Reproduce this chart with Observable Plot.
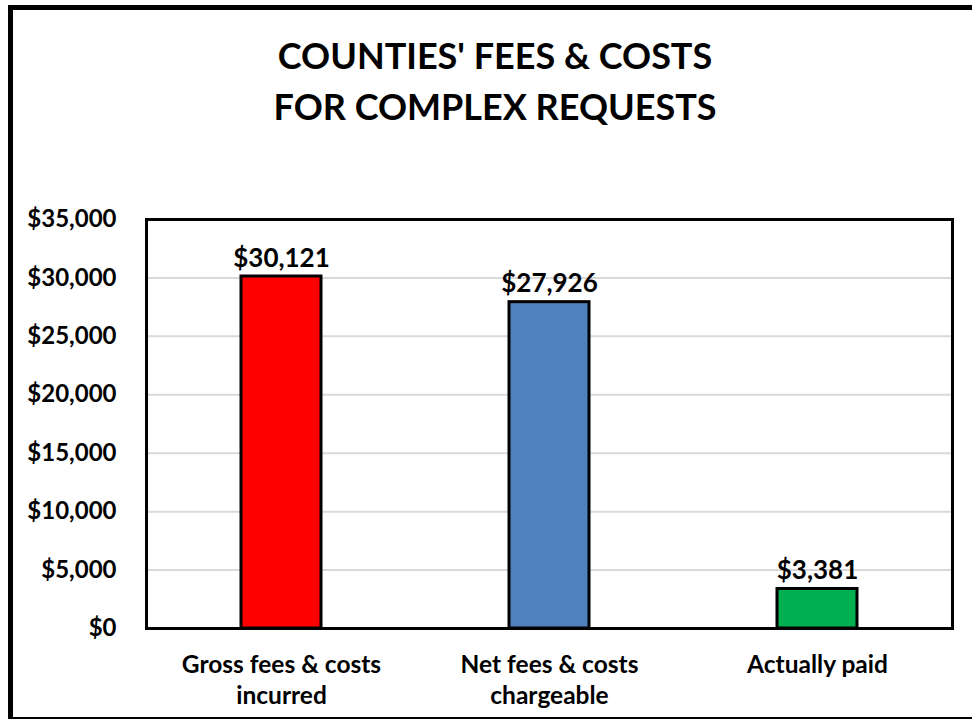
<!DOCTYPE html>
<html>
<head>
<meta charset="utf-8">
<script src="https://cdn.jsdelivr.net/npm/d3@7"></script>
<script src="https://cdn.jsdelivr.net/npm/@observablehq/plot@0.6"></script>
<style>
  html, body { margin: 0; padding: 0; background: #fff; }
  body { width: 972px; height: 719px; position: relative; overflow: hidden; font-family: Lato, "Open Sans", sans-serif; }
  #border { position: absolute; left: 8px; top: 5px; width: 990px; height: 717px; box-sizing: border-box; border: 5.5px solid #000; }
  #title { position: absolute; left: 0; top: 30px; width: 990px; text-align: center; font-size: 36px; line-height: 51px; font-weight: 700; color: #000; }
  #chart { position: absolute; left: 0; top: 180px; }
</style>
</head>
<body>
<div id="border"></div>
<div id="title">COUNTIES' FEES &amp; COSTS<br>FOR COMPLEX REQUESTS</div>
<div id="chart"></div>
<script>
const categories = ["Gross fees & costs\nincurred", "Net fees & costs\nchargeable", "Actually paid"];
const values = [30121, 27926, 3381];
const barColors = ["#FF0000", "#4F81BD", "#00B050"];
const yTicks = [0, 5000, 10000, 15000, 20000, 25000, 30000, 35000];

const data = categories.map((c, i) => ({category: c, value: values[i], color: barColors[i]}));
const money = d => "$" + d3.format(",")(d);

const chart = Plot.plot({
  width: 972,
  height: 539,
  marginTop: 39,
  marginBottom: 91,
  marginLeft: 146,
  marginRight: 20,
  style: {fontFamily: "Lato, 'Open Sans', sans-serif", color: "#000", background: "transparent", overflow: "visible"},
  x: {domain: categories, paddingInner: 0.7, paddingOuter: 0.35, label: null},
  y: {domain: [0, 35000], label: null},
  marks: [
    Plot.gridY(yTicks, {stroke: "#d9d9d9", strokeOpacity: 1, strokeWidth: 2}),
    Plot.axisY({ticks: yTicks, tickFormat: money, tickSize: 0, tickPadding: 30, fontSize: 24, fontWeight: "bold", label: null}),
    Plot.axisX({tickSize: 0, tickPadding: 22, fontSize: 24.5, fontWeight: "bold", lineHeight: 1.27, label: null}),
    Plot.barY(data, {x: "category", y: "value", fill: "color", stroke: "#000", strokeWidth: 3}),
    Plot.text(data, {x: "category", y: "value", text: d => money(d.value), dy: -10, lineAnchor: "bottom", fontSize: 26, fontWeight: "bold", fill: "#000"}),
    Plot.frame({stroke: "#000", strokeWidth: 3})
  ]
});
document.getElementById("chart").appendChild(chart);
</script>
</body>
</html>
